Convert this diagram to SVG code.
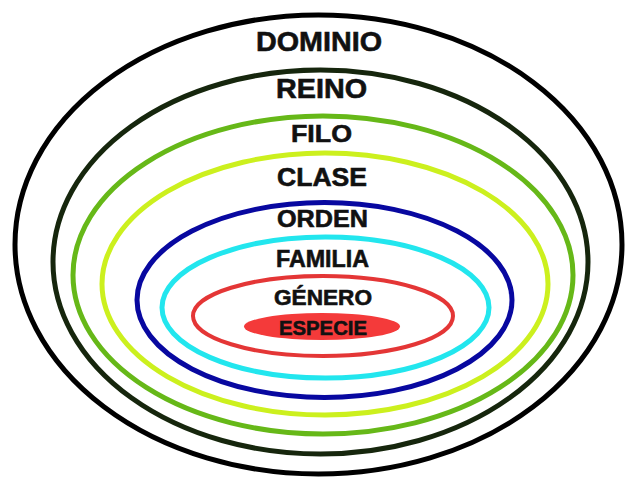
<svg xmlns="http://www.w3.org/2000/svg" width="640" height="480" viewBox="0 0 640 480">
<style>
.ring{fill:none;stroke-width:5}
.lbl{font-family:"Liberation Sans",Arial,sans-serif;font-weight:bold;fill:#111;stroke:#111;stroke-width:0.6;text-anchor:middle}
</style>
<rect width="640" height="480" fill="#fff"/>
<g id="dominio">
<ellipse class="ring" cx="318.5" cy="244.5" rx="303.5" ry="229.5" stroke="#000"/>
<text class="lbl" x="319" y="51" font-size="28.5" textLength="126" lengthAdjust="spacingAndGlyphs">DOMINIO</text>
</g>
<g id="reino">
<ellipse class="ring" cx="320.5" cy="262" rx="267.5" ry="192" stroke="#16260d"/>
<text class="lbl" x="321.5" y="98" font-size="27" textLength="91" lengthAdjust="spacingAndGlyphs">REINO</text>
</g>
<g id="filo">
<ellipse class="ring" cx="323" cy="275" rx="250" ry="159" stroke="#66b818"/>
<text class="lbl" x="321.5" y="142" font-size="24.5" textLength="61" lengthAdjust="spacingAndGlyphs">FILO</text>
</g>
<g id="clase">
<ellipse class="ring" cx="325" cy="284" rx="223" ry="131" stroke="#ccf01e"/>
<text class="lbl" x="322" y="186" font-size="25.5" textLength="90" lengthAdjust="spacingAndGlyphs">CLASE</text>
</g>
<g id="orden">
<ellipse class="ring" cx="324.5" cy="300" rx="187.5" ry="97.5" stroke="#0808a0"/>
<text class="lbl" x="322.5" y="227" font-size="24.5" textLength="91" lengthAdjust="spacingAndGlyphs">ORDEN</text>
</g>
<g id="familia">
<ellipse class="ring" cx="325.5" cy="307.5" rx="163.5" ry="70.5" stroke="#22e6ee"/>
<text class="lbl" x="322.5" y="267" font-size="23.5" textLength="93" lengthAdjust="spacingAndGlyphs">FAMILIA</text>
</g>
<g id="genero">
<ellipse cx="323" cy="316" rx="130" ry="40" fill="none" stroke="#e43636" stroke-width="4"/>
<text class="lbl" x="323" y="305" font-size="21.5" textLength="98" lengthAdjust="spacingAndGlyphs">GÉNERO</text>
</g>
<g id="especie">
<ellipse cx="322" cy="326.5" rx="78" ry="13.5" fill="#f43a3a"/>
<text class="lbl" x="323" y="335" font-size="21" textLength="88" lengthAdjust="spacingAndGlyphs">ESPECIE</text>
</g>
<g id="connectors"/>
</svg>
